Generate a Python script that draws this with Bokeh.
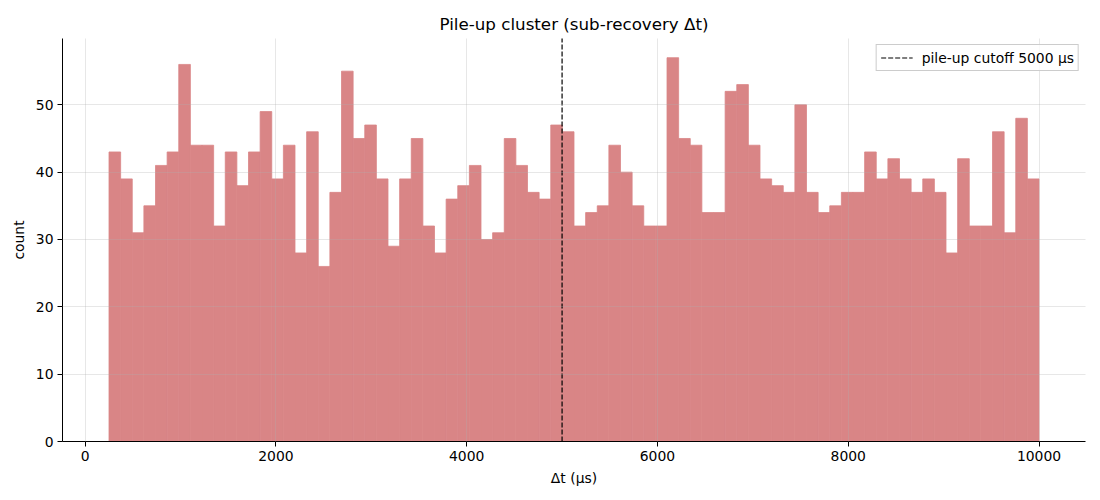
import numpy as np
from bokeh.plotting import figure
from bokeh.models import FixedTicker, Range1d, Legend, LegendItem
from bokeh.embed import file_html
from bokeh.resources import INLINE

# histogram data (80 bins from 250 to 10000 µs)
bin_start = 250.0
bin_end = 10000.0
counts = [43, 39, 31, 35, 41, 43, 56, 44, 44, 32,
          43, 38, 43, 49, 39, 44, 28, 46, 26, 37,
          55, 45, 47, 39, 29, 39, 45, 32, 28, 36,
          38, 41, 30, 31, 45, 41, 37, 36, 47, 46,
          32, 34, 35, 44, 40, 35, 32, 32, 57, 45,
          44, 34, 34, 52, 53, 44, 39, 38, 37, 50,
          37, 34, 35, 37, 37, 43, 39, 42, 39, 37,
          39, 37, 28, 42, 32, 32, 46, 31, 48, 39]
cutoff = 5000
x_ticks = [0, 2000, 4000, 6000, 8000, 10000]
y_ticks = [0, 10, 20, 30, 40, 50]

edges = np.linspace(bin_start, bin_end, len(counts) + 1)
span = bin_end - bin_start
ymax = max(counts) * 1.05

FONT = "DejaVu Sans"
BAR = "#d98586"

p = figure(width=1092, height=492, output_backend="svg", toolbar_location=None,
           x_range=Range1d(bin_start - 0.05 * span, bin_end + 0.05 * span),
           y_range=Range1d(0, ymax),
           title="Pile-up cluster (sub-recovery Δt)",
           min_border_left=62, min_border_right=7, min_border_top=38, min_border_bottom=51)

p.quad(left=edges[:-1], right=edges[1:], bottom=0, top=counts,
       fill_color=BAR, line_color=BAR, line_width=0.8)

dash = p.line(x=[cutoff, cutoff], y=[0, ymax * 2], line_color="black",
              line_width=1.2, line_dash="5 2")

legend = Legend(items=[LegendItem(label="pile-up cutoff 5000 μs", renderers=[dash])],
                location="top_right")
legend.label_text_font = FONT
legend.label_text_font_size = "13.9px"
legend.label_text_color = "black"
legend.border_line_color = "#cccccc"
legend.border_line_alpha = 1.0
legend.background_fill_alpha = 0.8
legend.padding = 4
legend.spacing = 0
legend.margin = 6
legend.glyph_width = 32
legend.glyph_height = 17
legend.label_standoff = 9
legend.label_height = 17
p.add_layout(legend)

p.title.align = "center"
p.title.text_font = FONT
p.title.text_font_size = "16.7px"
p.title.text_font_style = "normal"
p.title.text_color = "black"

p.xaxis.axis_label = "Δt (μs)"
p.yaxis.axis_label = "count"
for ax in (p.xaxis, p.yaxis):
    ax.axis_label_text_font = FONT
    ax.axis_label_text_font_size = "13.9px"
    ax.axis_label_text_font_style = "normal"
    ax.axis_label_text_color = "black"
    ax.major_label_text_font = FONT
    ax.major_label_text_font_size = "13.9px"
    ax.major_label_text_color = "black"
    ax.minor_tick_line_color = None
    ax.major_tick_out = 5
    ax.major_tick_in = 0
    ax.axis_line_color = "black"
    ax.major_tick_line_color = "black"
    ax.axis_label_standoff = 6
    ax.major_label_standoff = 4

p.xaxis.ticker = FixedTicker(ticks=x_ticks)
p.yaxis.ticker = FixedTicker(ticks=y_ticks)

p.outline_line_color = None
for g in (p.xgrid, p.ygrid):
    g.grid_line_color = "#b0b0b0"
    g.grid_line_alpha = 0.3
    g.level = "overlay"

open("out.html", "w").write(file_html(p, INLINE))
